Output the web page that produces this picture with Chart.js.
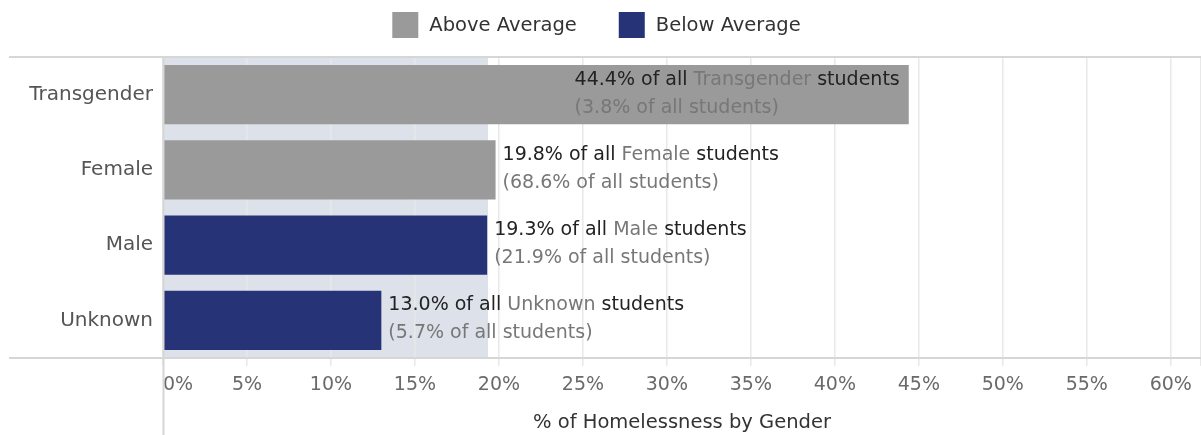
<!DOCTYPE html>
<html>
<head>
<meta charset="utf-8">
<script src="https://cdn.jsdelivr.net/npm/chart.js@4.4.1/dist/chart.umd.min.js"></script>
<style>
  html, body { margin: 0; padding: 0; background: #fff; }
  #wrap { width: 1201px; height: 435px; position: relative; }
</style>
</head>
<body>
<div id="wrap"><canvas id="graficaGenero"></canvas></div>
<script>
// ==============================
// DATA
// ==============================
const categories = ["Transgender", "Female", "Male", "Unknown"];
const homelessPct = [44.4, 19.8, 19.3, 13.0];
const studentShare = [3.8, 68.6, 21.9, 5.7];
const averagePct = 19.35;
const xTicks = [0, 5, 10, 15, 20, 25, 30, 35, 40, 45, 50, 55, 60];
const legendLabels = ["Above Average", "Below Average"];

// ==============================
// STYLE
// ==============================
const FONT = '"DejaVu Sans", sans-serif';
const ABOVE = "#9a9a9a";
const BELOW = "#263377";
const BAND = "#dde2ea";
const DARK = "#222222";
const GRAY = "#777777";
const RULE = "#d6d6d6";

const barColors = homelessPct.map(v => v > averagePct ? ABOVE : BELOW);

const canvas = document.getElementById("graficaGenero");
const ctx = canvas.getContext("2d");

new Chart(ctx, {
    type: "bar",
    data: {
        labels: categories,
        datasets: [{
            data: homelessPct,
            backgroundColor: barColors,
            borderWidth: 0,
            categoryPercentage: 1,
            barPercentage: 0.785
        }]
    },
    options: {
        indexAxis: "y",
        responsive: true,
        maintainAspectRatio: false,
        animation: false,
        layout: { padding: { top: 57, left: 0, right: 0, bottom: 0 } },
        plugins: {
            legend: { display: false },
            tooltip: { enabled: false }
        },
        scales: {
            x: {
                min: 0,
                max: 61.8,
                afterBuildTicks: scale => {
                    scale.ticks = xTicks.concat([scale.max]).map(v => ({ value: v }));
                },
                afterFit: scale => {
                    scale.height = 77;
                    scale.paddingLeft = 0;
                    scale.paddingRight = 0;
                },
                grid: {
                    color: "#e8e8e8",
                    lineWidth: 1.5,
                    drawTicks: true,
                    tickLength: 8
                },
                border: { display: false },
                ticks: {
                    autoSkip: false,
                    maxRotation: 0,
                    align: "inner",
                    padding: 8,
                    color: "#6a6a6a",
                    font: { family: FONT, size: 19 },
                    callback: value => xTicks.includes(value) ? value + "%" : ""
                },
                title: {
                    display: true,
                    text: "% of Homelessness by Gender",
                    color: "#333333",
                    font: { family: FONT, size: 19.5 },
                    padding: { top: 9, bottom: 0 }
                }
            },
            y: {
                afterFit: scale => { scale.width = 163; },
                grid: { display: false },
                border: { display: false },
                ticks: {
                    color: "#555555",
                    padding: 2,
                    font: { family: FONT, size: 20 }
                }
            }
        }
    },
    plugins: [{
        id: "bandAndRules",
        beforeDraw(chart) {
            const { ctx, chartArea, scales } = chart;
            if (!chartArea) return;
            // ===== BANDA PROMEDIO =====
            const xEnd = scales.x.getPixelForValue(averagePct);
            ctx.save();
            ctx.fillStyle = BAND;
            ctx.fillRect(chartArea.left, chartArea.top, xEnd - chartArea.left, chartArea.bottom - chartArea.top);
            ctx.restore();
        },
        afterDraw(chart) {
            const { ctx, chartArea } = chart;
            if (!chartArea) return;
            ctx.save();
            // ===== LINEAS =====
            ctx.strokeStyle = RULE;
            ctx.lineWidth = 2;
            ctx.beginPath();
            ctx.moveTo(9, chartArea.top);
            ctx.lineTo(chart.width, chartArea.top);
            ctx.moveTo(9, chartArea.bottom);
            ctx.lineTo(chart.width, chartArea.bottom);
            ctx.moveTo(chartArea.left + 0.5, chartArea.top);
            ctx.lineTo(chartArea.left + 0.5, chart.height);
            ctx.stroke();

            // ===== LEYENDA =====
            ctx.font = `19.5px ${FONT}`;
            ctx.textBaseline = "middle";
            ctx.textAlign = "left";
            const box = 26, gap = 11, itemGap = 42;
            const colors = [ABOVE, BELOW];
            const widths = legendLabels.map(t => ctx.measureText(t).width);
            const total = widths.reduce((a, b) => a + b, 0) + legendLabels.length * (box + gap) + itemGap * (legendLabels.length - 1);
            let x = (chart.width - total) / 2 - 4;
            const y = 25;
            legendLabels.forEach((t, i) => {
                ctx.fillStyle = colors[i];
                ctx.fillRect(x, y - box / 2, box, box);
                ctx.fillStyle = "#333333";
                ctx.fillText(t, x + box + gap, y + 1);
                x += box + gap + widths[i] + itemGap;
            });
            ctx.restore();
        },
        afterDatasetsDraw(chart) {
            const { ctx, chartArea } = chart;
            const meta = chart.getDatasetMeta(0);
            ctx.save();
            ctx.font = `19px ${FONT}`;
            ctx.textBaseline = "middle";
            ctx.textAlign = "left";
            meta.data.forEach((bar, i) => {
                const parts = [
                    { text: homelessPct[i].toFixed(1) + "% of all ", color: DARK },
                    { text: categories[i], color: GRAY },
                    { text: " students", color: DARK }
                ];
                const line2 = "(" + studentShare[i].toFixed(1) + "% of all students)";
                const w1 = parts.reduce((s, p) => s + ctx.measureText(p.text).width, 0);
                const w = Math.max(w1, ctx.measureText(line2).width);
                let x = bar.x + 7;
                if (x + w > chartArea.right - 4) x = bar.x - 9 - w;
                let cx = x;
                parts.forEach(p => {
                    ctx.fillStyle = p.color;
                    ctx.fillText(p.text, cx, bar.y - 15);
                    cx += ctx.measureText(p.text).width;
                });
                ctx.fillStyle = GRAY;
                ctx.fillText(line2, x, bar.y + 13);
            });
            ctx.restore();
        }
    }]
});
</script>
</body>
</html>
